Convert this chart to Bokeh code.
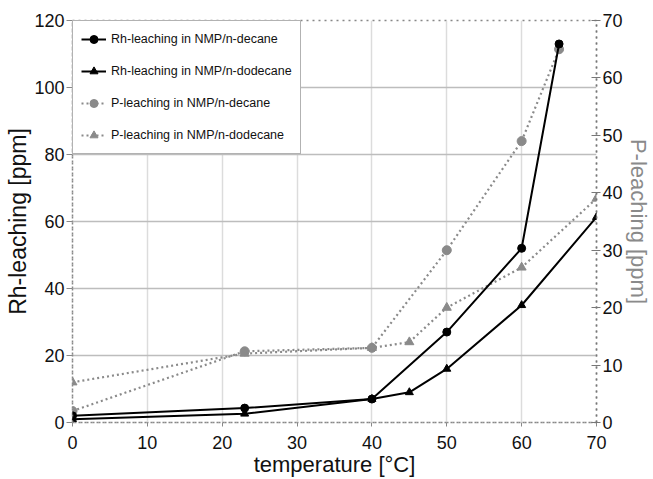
from bokeh.plotting import figure
from bokeh.models import LinearAxis, Range1d, Legend, LegendItem, FixedTicker
from bokeh.embed import file_html
from bokeh.resources import INLINE

# Rh leaching (left axis, ppm)
rh_decane_t = [0, 23, 40, 50, 60, 65]
rh_decane = [2, 4.3, 7, 27, 52, 113]
rh_dodecane_t = [0, 23, 40, 45, 50, 60, 70]
rh_dodecane = [1, 2.6, 7, 9, 16, 35, 61.3]

# P leaching (right axis, ppm)
p_decane_t = [0, 23, 40, 50, 60, 65]
p_decane = [2, 12.4, 13, 30, 49, 65]
p_dodecane_t = [0, 23, 40, 45, 50, 60, 70]
p_dodecane = [7, 12, 13, 14, 20, 27, 39]

x_ticks = [0, 10, 20, 30, 40, 50, 60, 70]
rh_ticks = [0, 20, 40, 60, 80, 100, 120]
p_ticks = [0, 10, 20, 30, 40, 50, 60, 70]

FONT = "Liberation Sans"
GREY = "#8a8a8a"

p = figure(width=653, height=479, output_backend="svg", toolbar_location=None,
           x_range=Range1d(0, 70), y_range=Range1d(0, 120),
           min_border_left=72, min_border_right=56, min_border_top=20,
           min_border_bottom=56)
p.extra_y_ranges = {"p": Range1d(0, 70)}

p.outline_line_color = "#888888"
p.outline_line_dash = "dotted"
p.outline_line_width = 1.5
p.background_fill_color = "white"
p.border_fill_color = "white"

# grid
p.xgrid.ticker = FixedTicker(ticks=x_ticks[1:-1])
p.ygrid.ticker = FixedTicker(ticks=rh_ticks[1:-1])
p.xgrid.grid_line_color = "#dcdcdc"
p.xgrid.grid_line_width = 1.5
p.ygrid.grid_line_color = "#bdbdbd"
p.ygrid.grid_line_width = 1.5

# axes
p.xaxis.ticker = FixedTicker(ticks=x_ticks)
p.yaxis.ticker = FixedTicker(ticks=rh_ticks)
for ax in (p.xaxis[0], p.yaxis[0]):
    ax.axis_line_color = "#888888"
    ax.axis_line_dash = "dotted"
    ax.axis_line_width = 1.5
    ax.major_tick_line_color = "#888888"
    ax.major_tick_in = 0
    ax.minor_tick_line_color = None
    ax.major_label_text_font = FONT
    ax.major_label_text_font_size = "18px"
    ax.major_label_text_color = "#111111"
    ax.axis_label_text_font = FONT
    ax.axis_label_text_font_style = "normal"
    ax.axis_label_text_color = "#111111"

p.xaxis.axis_label = "temperature [°C]"
p.xaxis.axis_label_text_font_size = "22px"
p.xaxis.major_tick_out = 4
p.xaxis.major_label_standoff = 9
p.xaxis.axis_label_standoff = 0
p.yaxis.axis_label = "Rh-leaching [ppm]"
p.yaxis.axis_label_text_font_size = "23px"
p.yaxis.major_tick_out = 6
p.yaxis.major_label_standoff = 2
p.yaxis.axis_label_standoff = 0

right = LinearAxis(y_range_name="p", ticker=FixedTicker(ticks=p_ticks),
                   axis_label="P-leaching [ppm]")
right.axis_line_color = "#777777"
right.axis_line_dash = "dotted"
right.axis_line_width = 1.5
right.major_tick_line_color = "#777777"
right.major_tick_in = 5
right.major_tick_out = 4
right.minor_tick_line_color = None
right.major_label_text_font = FONT
right.major_label_text_font_size = "18px"
right.major_label_text_color = "#111111"
right.major_label_standoff = 2
right.axis_label_text_font = FONT
right.axis_label_text_font_size = "22px"
right.axis_label_text_font_style = "normal"
right.axis_label_text_color = GREY
right.axis_label_standoff = 0
p.add_layout(right, "right")

# P leaching series (dotted grey)
l3 = p.line(p_decane_t, p_decane, y_range_name="p", line_color=GREY,
            line_width=2.2, line_dash="2 3")
s3 = p.scatter(p_decane_t, p_decane, y_range_name="p", marker="circle",
               size=9, fill_color=GREY, line_color=GREY)
l4 = p.line(p_dodecane_t, p_dodecane, y_range_name="p", line_color=GREY,
            line_width=2.2, line_dash="2 3")
s4 = p.scatter(p_dodecane_t, p_dodecane, y_range_name="p", marker="triangle",
               size=9, fill_color=GREY, line_color=GREY)

# Rh leaching series (solid black)
l1 = p.line(rh_decane_t, rh_decane, line_color="black", line_width=2)
s1 = p.scatter(rh_decane_t, rh_decane, marker="circle", size=8,
               fill_color="black", line_color="black")
l2 = p.line(rh_dodecane_t, rh_dodecane, line_color="black", line_width=2)
s2 = p.scatter(rh_dodecane_t, rh_dodecane, marker="triangle", size=8,
               fill_color="black", line_color="black")

legend = Legend(items=[
    LegendItem(label="Rh-leaching in NMP/n-decane", renderers=[l1, s1]),
    LegendItem(label="Rh-leaching in NMP/n-dodecane", renderers=[l2, s2]),
    LegendItem(label="P-leaching in NMP/n-decane", renderers=[l3, s3]),
    LegendItem(label="P-leaching in NMP/n-dodecane", renderers=[l4, s4]),
], location="top_left")
legend.margin = 0
legend.padding = 8
legend.spacing = 12
legend.label_height = 20
legend.glyph_height = 20
legend.glyph_width = 25
legend.label_standoff = 5
legend.label_text_font = FONT
legend.label_text_font_size = "12.5px"
legend.label_text_color = "#111111"
legend.border_line_color = "#666666"
legend.border_line_width = 1.5
legend.background_fill_color = "white"
legend.background_fill_alpha = 1
p.add_layout(legend, "center")

open("out.html", "w").write(file_html(p, INLINE))
